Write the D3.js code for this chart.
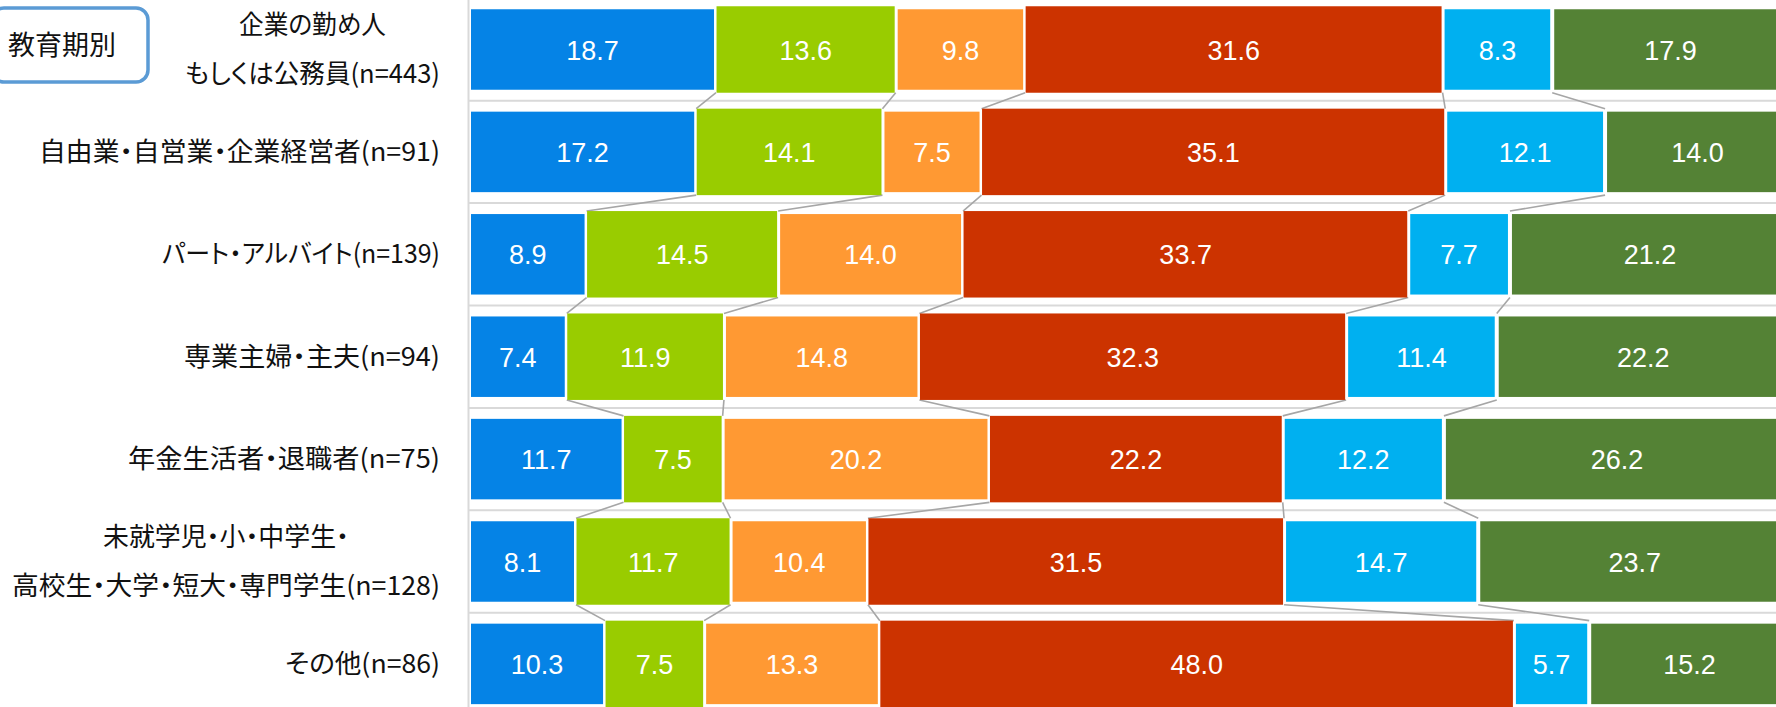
<!DOCTYPE html>
<html><head><meta charset="utf-8">
<script src="https://cdn.jsdelivr.net/npm/d3@7"></script>
<style>
html,body{margin:0;padding:0;background:#fff;overflow:hidden}
svg{display:block}
.cat{font-family:"Noto Sans CJK JP","Noto Sans",sans-serif;font-feature-settings:"palt";fill:#111}
.val{font-family:"Liberation Sans",Arial,sans-serif;fill:#fff}
</style></head>
<body>
<svg id="chart" width="1776" height="707"></svg>
<script>
const title = "教育期別";
const categories = [
  ["企業の勤め人", "もしくは公務員(n=443)"],
  ["自由業・自営業・企業経営者(n=91)"],
  ["パート・アルバイト(n=139)"],
  ["専業主婦・主夫(n=94)"],
  ["年金生活者・退職者(n=75)"],
  ["未就学児・小・中学生・", "高校生・大学・短大・専門学生(n=128)"],
  ["その他(n=86)"]
];
const series1 = [18.7, 17.2, 8.9, 7.4, 11.7, 8.1, 10.3];
const series2 = [13.6, 14.1, 14.5, 11.9, 7.5, 11.7, 7.5];
const series3 = [9.8, 7.5, 14.0, 14.8, 20.2, 10.4, 13.3];
const series4 = [31.6, 35.1, 33.7, 32.3, 22.2, 31.5, 48.0];
const series5 = [8.3, 12.1, 7.7, 11.4, 12.2, 14.7, 5.7];
const series6 = [17.9, 14.0, 21.2, 22.2, 26.2, 23.7, 15.2];
const seriesList = [series1, series2, series3, series4, series5, series6];

// layout / style (not data)
const colors = ["#0583E6", "#99CC00", "#FF9933", "#CC3300", "#00B0F0", "#548235"];
const outset = [false, true, false, true, false, false];
const labelLineWidths = [[147, 255], [401], [278], [256], [312], [246, 428], [155]];

const svg = d3.select("#chart");
const catIdx = categories.map((c, i) => i);
const y = d3.scaleBand().domain(catIdx).range([-1.7, -1.7 + 7 * 102.4]).paddingInner(0).paddingOuter(0);
const x = d3.scaleLinear().domain([0, 100]).range([469, 1790]);
const bw = y.bandwidth();
const bh = bw * 0.825;

const stacks = catIdx.map(i => {
  let acc = 0;
  return seriesList.map((s, j) => { const x0 = acc; acc += s[i]; return {i, j, x0, x1: acc, v: s[i]}; });
});

// gridlines at band boundaries
const bounds = catIdx.map(i => y(i)).concat([y(6) + bw]);
svg.append("g").selectAll("line").data(bounds).join("line")
  .attr("x1", x(0)).attr("x2", 1776)
  .attr("y1", d => d).attr("y2", d => d)
  .attr("stroke", "#d9d9d9").attr("stroke-width", 2);

// category axis line
const axisG = svg.append("g").attr("transform", `translate(${x(0) - 1},0)`)
  .call(d3.axisLeft(y).tickSize(0).tickFormat(""));
axisG.select(".domain").attr("stroke", "#d9d9d9").attr("stroke-width", 2);

// series connector lines
const conn = [];
for (let i = 0; i < categories.length - 1; i++) {
  for (let j = 0; j < seriesList.length - 1; j++) {
    conn.push({
      xa: x(stacks[i][j].x1), ya: y(i) + bw / 2 + bh / 2 + 1,
      xb: x(stacks[i + 1][j].x1), yb: y(i + 1) + bw / 2 - bh / 2 - 1
    });
  }
}
svg.append("g").selectAll("line").data(conn).join("line")
  .attr("x1", d => d.xa).attr("y1", d => d.ya)
  .attr("x2", d => d.xb).attr("y2", d => d.yb)
  .attr("stroke", "#a6a6a6").attr("stroke-width", 1.6);

// bars
const flat = stacks.flat();
svg.append("g").selectAll("rect").data(flat).join("rect")
  .attr("x", d => x(d.x0) + (outset[d.j] ? 0.5 : 2))
  .attr("width", d => x(d.x1) - x(d.x0) - (outset[d.j] ? 1.5 : 4))
  .attr("y", d => y(d.i) + bw / 2 - bh / 2 + (outset[d.j] ? -1 : 2))
  .attr("height", d => bh + (outset[d.j] ? 2 : -4))
  .attr("fill", d => colors[d.j]);

// value labels
svg.append("g").selectAll("text").data(flat).join("text")
  .attr("class", "val")
  .attr("x", d => x((d.x0 + d.x1) / 2))
  .attr("y", d => y(d.i) + bw / 2 + 10)
  .attr("text-anchor", "middle")
  .attr("font-size", 27)
  .text(d => d.v.toFixed(1));

// category labels
const labelRight = 440;
const lineGap = 49;
const catG = svg.append("g");
categories.forEach((lines, i) => {
  const cy = y(i) + bw / 2;
  const ws = labelLineWidths[i];
  const maxW = Math.max(...ws);
  lines.forEach((t, k) => {
    catG.append("text").attr("class", "cat")
      .attr("font-size", 26)
      .attr("text-anchor", "middle")
      .attr("x", labelRight - maxW / 2)
      .attr("y", cy + (k - (lines.length - 1) / 2) * lineGap + 9)
      .attr("textLength", ws[k])
      .attr("lengthAdjust", "spacingAndGlyphs")
      .text(t);
  });
});

// title box
svg.append("rect").attr("x", -8).attr("y", 8).attr("width", 156).attr("height", 74)
  .attr("rx", 12).attr("ry", 12)
  .attr("fill", "#fff").attr("stroke", "#5B9BD5").attr("stroke-width", 3.5);
svg.append("text").attr("class", "cat").attr("x", 8).attr("y", 55)
  .attr("font-size", 27).text(title);
</script>
</body></html>
